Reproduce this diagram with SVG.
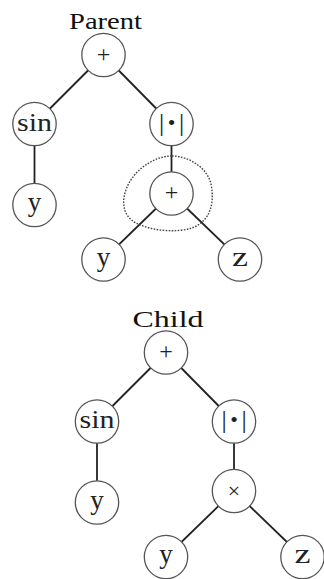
<svg xmlns="http://www.w3.org/2000/svg" width="324" height="579" viewBox="0 0 324 579">
<style>
.edge{stroke:#222;stroke-width:1.8;fill:none}
.node circle{fill:#fff;stroke:#555;stroke-width:1.3}
.lbl{font-family:"Liberation Serif","Times New Roman",serif;fill:#222;text-anchor:middle}
.op{font-size:24px}
.tm{font-size:22px}
.sin{font-size:25px}
.var{font-size:27px}
.bar{font-size:26px}
.dot{font-size:22px}
.title{font-family:"Liberation Serif","Times New Roman",serif;font-size:24px;fill:#111;text-anchor:middle}
.sel{fill:none;stroke:#444;stroke-width:1.4;stroke-dasharray:1.6 1.4}
</style>
<rect width="324" height="579" fill="#fff"/>
<text class="title" x="105.5" y="28.5" textLength="73" lengthAdjust="spacingAndGlyphs">Parent</text>
<text class="title" x="168" y="327" textLength="71" lengthAdjust="spacingAndGlyphs">Child</text>
<g id="edges">
<line class="edge" x1="103.5" y1="55" x2="34.5" y2="124"/>
<line class="edge" x1="103.5" y1="55" x2="171.5" y2="124"/>
<line class="edge" x1="34.5" y1="124" x2="34.5" y2="205"/>
<line class="edge" x1="171.5" y1="124" x2="171.5" y2="193.5"/>
<line class="edge" x1="171.5" y1="193.5" x2="103.5" y2="259.5"/>
<line class="edge" x1="171.5" y1="193.5" x2="240" y2="259.5"/>
<line class="edge" x1="166" y1="352.5" x2="97" y2="421.5"/>
<line class="edge" x1="166" y1="352.5" x2="234" y2="421.5"/>
<line class="edge" x1="97" y1="421.5" x2="97" y2="502.5"/>
<line class="edge" x1="234" y1="421.5" x2="234" y2="491"/>
<line class="edge" x1="234" y1="491" x2="166" y2="557"/>
<line class="edge" x1="234" y1="491" x2="302.5" y2="557"/>
</g>
<g id="selection">
<path class="sel" d="M172,156 C188,156 207,167 211,184 C215,204 210,221 192,228 C176,233 152,231 136,223 C121,215 121,198 129,183 C138,167 156,156 172,156 Z"/>
</g>
<g id="p_root" class="node"><circle cx="103.5" cy="55" r="21.7"/><text class="lbl op" x="103.5" y="61.5">+</text></g>
<g id="p_sin" class="node"><circle cx="34.5" cy="124" r="21.7"/><text class="lbl sin" x="34.5" y="130.5" textLength="35" lengthAdjust="spacingAndGlyphs">sin</text></g>
<g id="p_abs" class="node"><circle cx="171.5" cy="124" r="21.7"/><text class="lbl" y="130.5"><tspan class="bar" x="161.5">|</tspan><tspan class="dot" x="171.5" y="129.5">•</tspan><tspan class="bar" x="181.5" y="130.5">|</tspan></text></g>
<g id="p_y1" class="node"><circle cx="34.5" cy="205" r="21.7"/><text class="lbl var" x="34.5" y="211">y</text></g>
<g id="p_plus" class="node"><circle cx="171.5" cy="193.5" r="21.7"/><text class="lbl op" x="171.5" y="200">+</text></g>
<g id="p_y2" class="node"><circle cx="103.5" cy="259.5" r="21.7"/><text class="lbl var" x="103.5" y="265.5">y</text></g>
<g id="p_z" class="node"><circle cx="240" cy="259.5" r="21.7"/><text class="lbl var" x="240" y="265.5" textLength="16" lengthAdjust="spacingAndGlyphs">z</text></g>
<g id="c_root" class="node"><circle cx="166" cy="352.5" r="21.7"/><text class="lbl op" x="166" y="359">+</text></g>
<g id="c_sin" class="node"><circle cx="97" cy="421.5" r="21.7"/><text class="lbl sin" x="97" y="428" textLength="35" lengthAdjust="spacingAndGlyphs">sin</text></g>
<g id="c_abs" class="node"><circle cx="234" cy="421.5" r="21.7"/><text class="lbl" y="428"><tspan class="bar" x="224">|</tspan><tspan class="dot" x="234" y="427">•</tspan><tspan class="bar" x="244" y="428">|</tspan></text></g>
<g id="c_y1" class="node"><circle cx="97" cy="502.5" r="21.7"/><text class="lbl var" x="97" y="508.5">y</text></g>
<g id="c_times" class="node"><circle cx="234" cy="491" r="21.7"/><text class="lbl tm" x="234" y="497.5">×</text></g>
<g id="c_y2" class="node"><circle cx="166" cy="557" r="21.7"/><text class="lbl var" x="166" y="563">y</text></g>
<g id="c_z" class="node"><circle cx="302.5" cy="557" r="21.7"/><text class="lbl var" x="302.5" y="563" textLength="16" lengthAdjust="spacingAndGlyphs">z</text></g>
</svg>
